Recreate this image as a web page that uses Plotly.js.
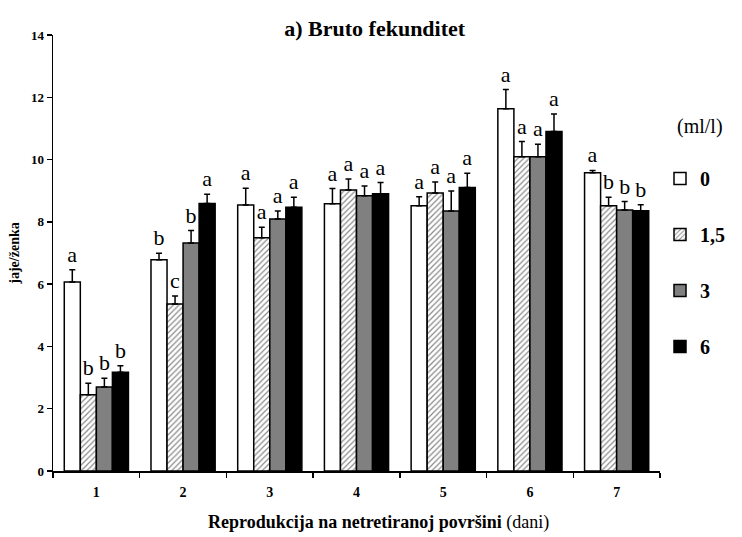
<!DOCTYPE html>
<html>
<head>
<meta charset="utf-8">
<script src="https://cdn.plot.ly/plotly-3.0.1.min.js"></script>
<style>html,body{margin:0;padding:0;background:#fff;}#chart{width:742px;height:537px;}</style>
</head>
<body>
<div id="chart"></div>
<script>
// ---- data ----
const categories = ['1', '2', '3', '4', '5', '6', '7'];
const seriesNames = ['0', '1,5', '3', '6'];

const mean0   = [6.07, 6.78, 8.54, 8.58, 8.52, 11.63, 9.58];
const err0    = [0.39, 0.21, 0.54, 0.49, 0.29, 0.62, 0.07];
const mean15  = [2.45, 5.36, 7.49, 9.02, 8.93, 10.09, 8.52];
const err15   = [0.37, 0.26, 0.34, 0.36, 0.35, 0.49, 0.27];
const mean3   = [2.70, 7.32, 8.09, 8.84, 8.35, 10.09, 8.38];
const err3    = [0.28, 0.40, 0.26, 0.31, 0.64, 0.40, 0.27];
const mean6   = [3.17, 8.59, 8.47, 8.90, 9.10, 10.90, 8.36];
const err6    = [0.21, 0.30, 0.32, 0.36, 0.46, 0.56, 0.19];

const letters0  = ['a', 'b', 'a', 'a', 'a', 'a', 'a'];
const letters15 = ['b', 'c', 'a', 'a', 'a', 'a', 'b'];
const letters3  = ['b', 'b', 'a', 'a', 'a', 'a', 'b'];
const letters6  = ['b', 'a', 'a', 'a', 'a', 'a', 'b'];

// ---- styling ----
const SERIF = 'Liberation Serif, Times New Roman, serif';
const styles = [
  {color: '#ffffff'},
  {color: '#ffffff', pattern: {shape: '/', fgcolor: '#8a8a8a', bgcolor: '#ffffff', size: 4, solidity: 0.3}},
  {color: '#808080'},
  {color: '#000000'}
];
const means = [mean0, mean15, mean3, mean6];
const errs = [err0, err15, err3, err6];
const letters = [letters0, letters15, letters3, letters6];

const traces = [];
means.forEach((m, i) => {
  const marker = {color: styles[i].color, line: {color: '#000000', width: 1.5}};
  if (styles[i].pattern) marker.pattern = styles[i].pattern;
  traces.push({
    type: 'bar', x: categories, y: m, name: seriesNames[i],
    offsetgroup: 'g' + i, legendgroup: 'g' + i,
    marker: marker,
    error_y: {type: 'data', symmetric: false, array: errs[i], arrayminus: errs[i].map(() => 0),
              color: '#000000', thickness: 1.5, width: 3},
    hoverinfo: 'skip'
  });
});
// significance letters, placed on top of (invisible) bars reaching mean + error
means.forEach((m, i) => {
  traces.push({
    type: 'bar', x: categories, y: m.map((v, k) => v + errs[i][k]),
    offsetgroup: 'g' + i, showlegend: false,
    marker: {color: 'rgba(0,0,0,0)', line: {width: 0}},
    text: letters[i], textposition: 'outside', constraintext: 'none', cliponaxis: false,
    textfont: {family: SERIF, size: 22, color: '#000000'},
    hoverinfo: 'skip'
  });
});

const layout = {
  width: 742, height: 537,
  margin: {l: 53, r: 73, t: 35, b: 66},
  paper_bgcolor: '#ffffff', plot_bgcolor: '#ffffff',
  barmode: 'group', bargap: 0.26, bargroupgap: 0,
  font: {family: SERIF, color: '#000000'},
  title: {text: '<b>a) Bruto fekunditet</b>', x: 0.505, xref: 'container', xanchor: 'center',
          y: 0.948, yanchor: 'middle', font: {family: SERIF, size: 22, color: '#000000'}},
  xaxis: {
    type: 'category', range: [-0.5, 6.5],
    showline: true, linecolor: '#000000', linewidth: 1.5,
    ticks: 'outside', tickson: 'boundaries', ticklen: 5, tickwidth: 1.5, tickcolor: '#000000',
    tickfont: {family: SERIF, size: 14, weight: 'bold', color: '#000000'},
    ticklabelstandoff: 8,
    showgrid: false, zeroline: false, fixedrange: true
  },
  yaxis: {
    range: [0, 14], dtick: 2, tick0: 0,
    showline: true, linecolor: '#000000', linewidth: 1.5,
    ticks: 'outside', ticklen: 5, tickwidth: 1.5, tickcolor: '#000000',
    tickfont: {family: SERIF, size: 13, weight: 'bold', color: '#000000'},
    showgrid: false, zeroline: false, fixedrange: true,
    title: {text: '<b>jaje/ženka</b>', font: {family: SERIF, size: 14, color: '#000000'}, standoff: 8}
  },
  showlegend: true,
  legend: {
    x: 1.0, xanchor: 'left', y: 0.835, yanchor: 'top',
    title: {text: '\u00a0\u00a0\u00a0(ml/l)<br> ', font: {family: SERIF, size: 20, weight: 'normal', color: '#000000'}},
    font: {family: SERIF, size: 20, weight: 'bold', color: '#000000'},
    traceorder: 'grouped', tracegroupgap: 27, itemwidth: 30,
    bgcolor: 'rgba(0,0,0,0)', borderwidth: 0
  },
  annotations: [{
    text: '<b>Reprodukcija na netretiranoj površini</b> (dani)',
    xref: 'paper', yref: 'paper', x: 0.537, y: -0.119, xanchor: 'center', yanchor: 'middle',
    showarrow: false, font: {family: SERIF, size: 18, color: '#000000'}
  }]
};

Plotly.newPlot('chart', traces, layout, {displayModeBar: false, staticPlot: true});
</script>
</body>
</html>
